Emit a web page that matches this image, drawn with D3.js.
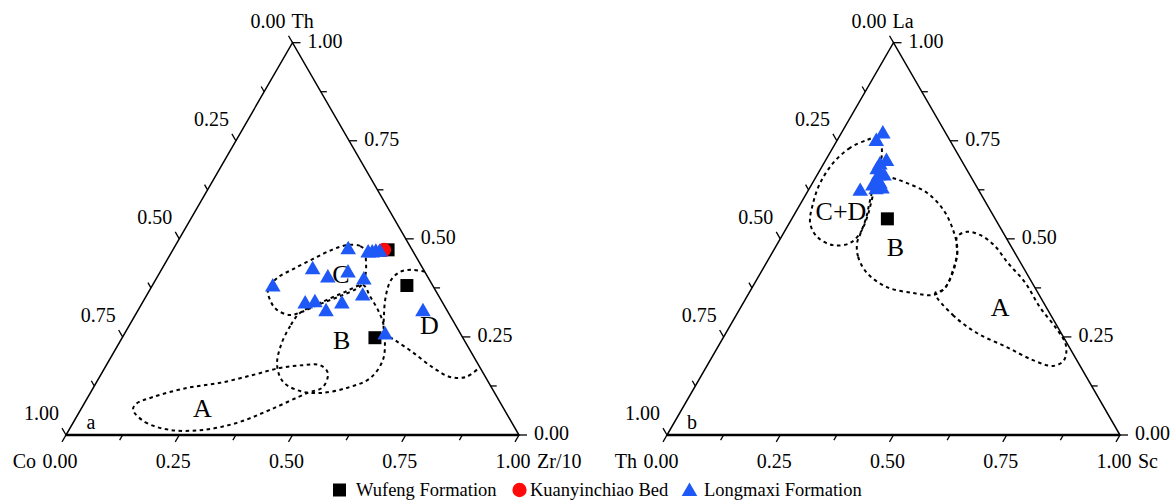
<!DOCTYPE html>
<html>
<head>
<meta charset="utf-8">
<script src="https://cdn.jsdelivr.net/npm/d3@7"></script>
<style>
  body { margin: 0; background: #fff; }
  svg { display: block; }
</style>
</head>
<body>
<svg id="chart" width="1176" height="500"></svg>
<script>
// Every composition is written as [bottom-axis fraction, top-vertex fraction];
// the left-vertex fraction is 1 minus their sum.

// ---------- Panel a: Co – Zr/10 – Th ----------
const wufengA = [[0.475, 0.472], [0.562, 0.381], [0.558, 0.248]];
const kuanyinchiaoA = [[0.466, 0.472]];
const longmaxiA = [
  [0.387, 0.472], [0.435, 0.464], [0.444, 0.464], [0.451, 0.466], [0.460, 0.466],
  [0.334, 0.421], [0.416, 0.413], [0.378, 0.400], [0.460, 0.395], [0.268, 0.377],
  [0.478, 0.354], [0.361, 0.334], [0.381, 0.337], [0.442, 0.334], [0.417, 0.314],
  [0.631, 0.314], [0.577, 0.255]
];
const fieldA_a = [[0.116, 0.064], [0.158, 0.033], [0.223, 0.013], [0.296, 0.013], [0.362, 0.031],
  [0.418, 0.064], [0.479, 0.107], [0.506, 0.122], [0.499, 0.158], [0.472, 0.178], [0.434, 0.178],
  [0.387, 0.171], [0.336, 0.153], [0.274, 0.133], [0.207, 0.120], [0.144, 0.097], [0.115, 0.079]];
const fieldB_a = [[0.361, 0.311], [0.356, 0.278], [0.360, 0.229], [0.377, 0.178], [0.412, 0.135],
  [0.461, 0.112], [0.507, 0.107], [0.560, 0.120], [0.599, 0.145], [0.604, 0.191], [0.583, 0.242],
  [0.557, 0.286], [0.529, 0.319], [0.494, 0.354], [0.465, 0.382], [0.434, 0.365], [0.396, 0.339]];
const fieldC_a = [[0.426, 0.469], [0.408, 0.482], [0.378, 0.484], [0.351, 0.472], [0.321, 0.449],
  [0.290, 0.423], [0.266, 0.400], [0.261, 0.370], [0.283, 0.339], [0.306, 0.319], [0.341, 0.306],
  [0.364, 0.314], [0.394, 0.334], [0.428, 0.354], [0.454, 0.372], [0.462, 0.387], [0.454, 0.416],
  [0.439, 0.446]];
// field D is open: the Th–Zr/10 edge closes it
const fieldD_a = [[0.584, 0.416], [0.554, 0.421], [0.530, 0.416], [0.520, 0.395], [0.528, 0.357],
  [0.549, 0.306], [0.574, 0.260], [0.605, 0.242], [0.658, 0.212], [0.722, 0.173], [0.774, 0.148],
  [0.809, 0.148], [0.827, 0.173]];
const fieldLabelsA = [
  { text: "A", at: [0.2675, 0.0675] },
  { text: "B", at: [0.488, 0.241] },
  { text: "C", at: [0.403, 0.408] },
  { text: "D", at: [0.662, 0.280] }
];

// ---------- Panel b: Th – Sc – La ----------
const wufengB = [[0.211, 0.551]];
const kuanyinchiaoB = [];
const longmaxiB = [
  [0.093, 0.767], [0.088, 0.748], [0.136, 0.697], [0.126, 0.688], [0.126, 0.676],
  [0.149, 0.660], [0.137, 0.660], [0.139, 0.648], [0.150, 0.640], [0.137, 0.635],
  [0.161, 0.627], [0.149, 0.625], [0.116, 0.621]
];
const fieldCD_b = [[0.0655, 0.752], [0.038, 0.732], [0.020, 0.693], [0.017, 0.642], [0.027, 0.591],
  [0.046, 0.540], [0.079, 0.505], [0.124, 0.484], [0.159, 0.489], [0.169, 0.515], [0.164, 0.556],
  [0.151, 0.604], [0.135, 0.658], [0.115, 0.719], [0.097, 0.747], [0.079, 0.757]];
const fieldB_b = [[0.175, 0.489], [0.195, 0.454], [0.235, 0.413], [0.297, 0.377], [0.362, 0.362],
  [0.409, 0.357], [0.426, 0.375], [0.421, 0.421], [0.405, 0.472], [0.370, 0.523], [0.323, 0.574],
  [0.266, 0.617], [0.209, 0.642], [0.157, 0.658], [0.136, 0.655], [0.149, 0.599], [0.163, 0.553],
  [0.171, 0.510]];
const fieldA_b = [[0.411, 0.362], [0.478, 0.306], [0.554, 0.260], [0.638, 0.224], [0.712, 0.191],
  [0.764, 0.176], [0.781, 0.191], [0.766, 0.229], [0.722, 0.273], [0.660, 0.326], [0.597, 0.388],
  [0.534, 0.438], [0.480, 0.484], [0.436, 0.510], [0.404, 0.518], [0.388, 0.505], [0.411, 0.459],
  [0.425, 0.408], [0.425, 0.370]];
const fieldLabelsB = [
  { text: "C+D", at: [0.099, 0.570] },
  { text: "B", at: [0.265, 0.478] },
  { text: "A", at: [0.573, 0.325] }
];

// ---------- axes ----------
const tickValues = [0, 0.125, 0.25, 0.375, 0.5, 0.625, 0.75, 0.875, 1];
const tickLabels = ["0.00", "0.25", "0.50", "0.75", "1.00"];
const legendItems = ["Wufeng Formation", "Kuanyinchiao Bed", "Longmaxi Formation"];

const SIDE = 453, BASE = 435, HEIGHT = SIDE * Math.sqrt(3) / 2;
const SERIF = "'Liberation Serif', 'Times New Roman', serif";
const BLUE = "#1e58f6", RED = "#ff0a0a";

const svg = d3.select("#chart");

const markerSquare = d3.symbol().type(d3.symbolSquare).size(169);
const markerCircle = d3.symbol().type(d3.symbolCircle).size(160);
const markerTriangle = d3.symbol().type(d3.symbolTriangle).size(105);

function ternaryPanel(cfg) {
  const g = svg.append("g");
  const xs = d3.scaleLinear().domain([0, 1]).range([cfg.x0, cfg.x0 + SIDE]);
  const ys = d3.scaleLinear().domain([0, 1]).range([BASE, BASE - HEIGHT]);
  const P = ([b, c]) => [xs(b + c / 2), ys(c)];

  const isMajor = v => Math.abs(v * 4 - Math.round(v * 4)) < 1e-9;
  const labelFor = v => tickLabels[Math.round(v * 4)];

  // frame
  const [L, R, T] = [P([0, 0]), P([1, 0]), P([0, 1])];
  g.append("path")
    .attr("d", d3.line()([L, R, T]) + "Z")
    .attr("fill", "none").attr("stroke", "#000").attr("stroke-width", 1.5)
    .attr("stroke-linejoin", "miter");
  g.append("line")
    .attr("x1", L[0]).attr("y1", L[1]).attr("x2", R[0]).attr("y2", R[1])
    .attr("stroke", "#000").attr("stroke-width", 2.4);

  const ticks = g.append("g").attr("stroke", "#000").attr("stroke-width", 1.3);
  const labels = g.append("g").attr("font-family", SERIF).attr("font-size", 20).attr("fill", "#000");
  const c60 = 0.5, s60 = Math.sqrt(3) / 2;

  tickValues.forEach(v => {
    const len = isMajor(v) ? 8 : 6;
    // bottom axis (slanted ticks, along constant-bottom lines)
    let p = P([v, 0]);
    ticks.append("line").attr("x1", p[0]).attr("y1", p[1])
      .attr("x2", p[0] - len * c60).attr("y2", p[1] + len * s60);
    if (isMajor(v)) {
      labels.append("text").attr("x", p[0] - 6).attr("y", p[1] + 26)
        .attr("text-anchor", "middle").attr("dominant-baseline", "central").text(labelFor(v));
    }
    // right axis (top-vertex fraction)
    p = P([1 - v, v]);
    ticks.append("line").attr("x1", p[0]).attr("y1", p[1])
      .attr("x2", p[0] + len).attr("y2", p[1]);
    if (isMajor(v)) {
      labels.append("text").attr("x", p[0] + 15).attr("y", p[1] - 2)
        .attr("text-anchor", "start").attr("dominant-baseline", "central").text(labelFor(v));
    }
    // left axis (left-vertex fraction, 0 at the top)
    p = P([0, 1 - v]);
    ticks.append("line").attr("x1", p[0]).attr("y1", p[1])
      .attr("x2", p[0] - len * c60).attr("y2", p[1] - len * s60);
    if (isMajor(v)) {
      labels.append("text").attr("x", p[0] - 7).attr("y", p[1] - 22)
        .attr("text-anchor", "end").attr("dominant-baseline", "central").text(labelFor(v));
    }
  });

  // component names
  labels.append("text").attr("x", L[0] - 30).attr("y", L[1] + 26)
    .attr("text-anchor", "end").attr("dominant-baseline", "central").text(cfg.left);
  labels.append("text").attr("x", R[0] + 18).attr("y", R[1] + 26)
    .attr("text-anchor", "start").attr("dominant-baseline", "central").text(cfg.right);
  labels.append("text").attr("x", T[0] - 1).attr("y", T[1] - 22)
    .attr("text-anchor", "start").attr("dominant-baseline", "central").text(cfg.top);

  // panel letter
  g.append("text").attr("x", L[0] + 25).attr("y", L[1] - 13)
    .attr("font-family", SERIF).attr("font-size", 20)
    .attr("text-anchor", "middle").attr("dominant-baseline", "central").text(cfg.panel);

  // discrimination fields
  const fields = g.append("g").attr("fill", "none").attr("stroke", "#000")
    .attr("stroke-width", 2).attr("stroke-dasharray", "3.5,3.5");
  const closed = d3.line().curve(d3.curveCatmullRomClosed.alpha(0.5));
  const open = d3.line().curve(d3.curveCatmullRom.alpha(0.5));
  cfg.closedFields.forEach(f => fields.append("path").attr("d", closed(f.map(P))));
  cfg.openFields.forEach(f => fields.append("path").attr("d", open(f.map(P))));

  g.append("g").attr("font-family", SERIF).attr("font-size", 26).attr("fill", "#000")
    .selectAll("text").data(cfg.fieldLabels).join("text")
    .attr("x", d => P(d.at)[0]).attr("y", d => P(d.at)[1])
    .attr("text-anchor", "middle").attr("dominant-baseline", "central")
    .text(d => d.text);

  // samples
  const marks = g.append("g");
  marks.selectAll(".wf").data(cfg.wufeng).join("path").attr("class", "wf")
    .attr("d", markerSquare).attr("fill", "#000")
    .attr("transform", d => `translate(${P(d)})`);
  marks.selectAll(".kb").data(cfg.kuanyinchiao).join("path").attr("class", "kb")
    .attr("d", markerCircle).attr("fill", RED)
    .attr("transform", d => `translate(${P(d)})`);
  marks.selectAll(".lm").data(cfg.longmaxi).join("path").attr("class", "lm")
    .attr("d", markerTriangle).attr("fill", BLUE)
    .attr("transform", d => `translate(${P(d)})`);
}

ternaryPanel({
  x0: 66, left: "Co", right: "Zr/10", top: "Th", panel: "a",
  closedFields: [fieldA_a, fieldB_a, fieldC_a], openFields: [fieldD_a],
  fieldLabels: fieldLabelsA,
  wufeng: wufengA, kuanyinchiao: kuanyinchiaoA, longmaxi: longmaxiA
});

ternaryPanel({
  x0: 667, left: "Th", right: "Sc", top: "La", panel: "b",
  closedFields: [fieldCD_b, fieldB_b, fieldA_b], openFields: [],
  fieldLabels: fieldLabelsB,
  wufeng: wufengB, kuanyinchiao: kuanyinchiaoB, longmaxi: longmaxiB
});

// legend
const legendLayout = [
  { marker: markerSquare, fill: "#000", mx: 339.5, tx: 356 },
  { marker: markerCircle, fill: RED, mx: 519.5, tx: 530 },
  { marker: markerTriangle, fill: BLUE, mx: 689.5, tx: 704 }
];
const legend = svg.append("g").attr("font-family", SERIF).attr("font-size", 18.5);
legendItems.forEach((name, i) => {
  const it = legendLayout[i];
  legend.append("path").attr("d", it.marker).attr("fill", it.fill)
    .attr("transform", `translate(${it.mx},${i === 2 ? 491.5 : 490})`);
  legend.append("text").attr("x", it.tx).attr("y", 490)
    .attr("dominant-baseline", "central").text(name);
});
</script>
</body>
</html>
